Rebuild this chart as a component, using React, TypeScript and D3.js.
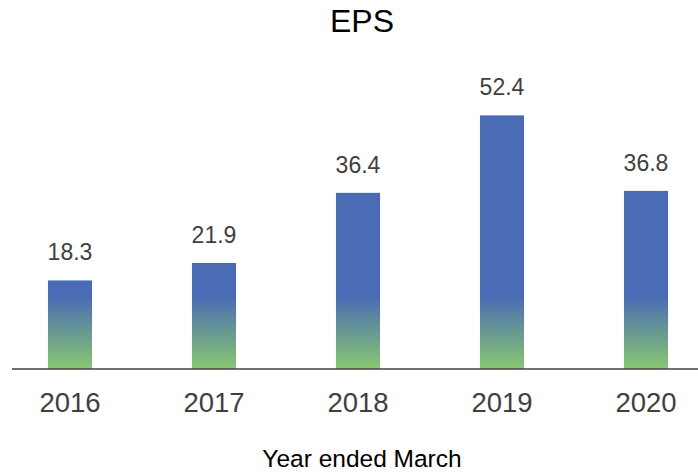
import React from "react";
import * as d3 from "d3";

const years = ["2016", "2017", "2018", "2019", "2020"];
const eps = [18.3, 21.9, 36.4, 52.4, 36.8];
const title = "EPS";
const xTitle = "Year ended March";

const W = 698;
const H = 473;
const baseY = 369;

export default function App() {
  const x = d3.scaleBand<string>().domain(years).range([-2, 718]).paddingInner(0.694).paddingOuter(0.347);
  const y = d3.scaleLinear().domain([0, 60]).range([baseY, baseY - 60 * 4.84]);
  const font = "'Liberation Sans', Arial, Helvetica, sans-serif";
  return (
    <svg width={W} height={H} style={{ position: "absolute", left: 0, top: 0 }} fontFamily={font}>
      <defs>
        <linearGradient id="barGrad" gradientUnits="userSpaceOnUse" x1={0} y1={297} x2={0} y2={baseY}>
          <stop offset="0" stopColor="#4a6cb4" />
          <stop offset="1" stopColor="#88c870" />
        </linearGradient>
      </defs>
      <text x={362} y={32} textAnchor="middle" fontSize={32} fill="#000">{title}</text>
      {years.map((yr, i) => {
        const bx = x(yr)!;
        const top = y(eps[i]);
        return (
          <g key={yr}>
            <rect x={bx} y={top} width={x.bandwidth()} height={baseY - top} fill="url(#barGrad)" />
            <text x={bx + x.bandwidth() / 2} y={top - 20} textAnchor="middle" fontSize={23} fill="#404040">
              {eps[i].toFixed(1)}
            </text>
            <text x={bx + x.bandwidth() / 2} y={412} textAnchor="middle" fontSize={27.5} fill="#404040">
              {yr}
            </text>
          </g>
        );
      })}
      <line x1={12} x2={698} y1={baseY} y2={baseY} stroke="#404040" strokeWidth={1.5} />
      <text x={362} y={467} textAnchor="middle" fontSize={24.5} fill="#000">{xTitle}</text>
    </svg>
  );
}
